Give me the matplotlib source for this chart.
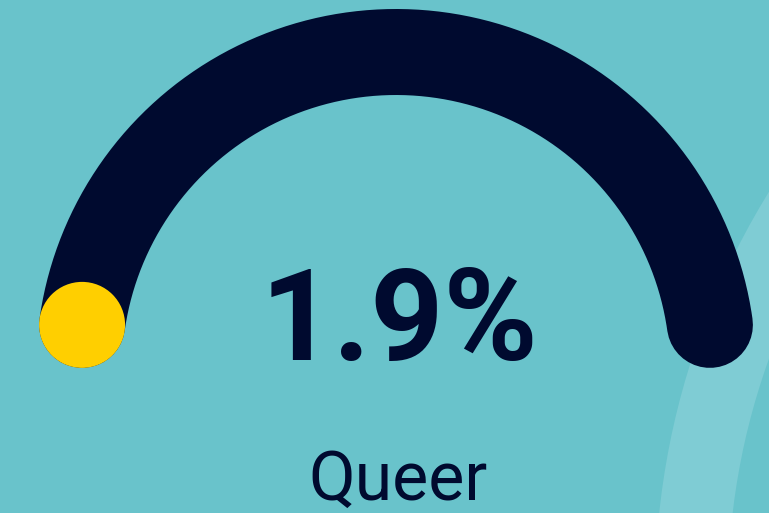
import numpy as np
import matplotlib
matplotlib.use("Agg")
from matplotlib import pyplot as plt
from matplotlib.patches import Circle, Wedge

# data
value = 1.9
label = "Queer"
value_text = "1.9%"

bg = "#69c3cb"
navy = "#000a2f"
yellow = "#ffcf00"
light = "#7fccd4"

fig = plt.figure(figsize=(7.69, 5.13), dpi=100)
fig.patch.set_facecolor(bg)
ax = fig.add_axes([0, 0, 1, 1])
ax.set_facecolor(bg)
ax.set_xlim(0, 769)
ax.set_ylim(513, 0)
ax.set_aspect("equal")
ax.axis("off")

# decorative light ring on the right
ax.add_patch(Wedge((1418, 593), 763, 0, 360, width=73, color=light, lw=0, zorder=1))

# gauge arc (pixel units, 1 data unit = 1 px)
cx, cy, r = 396, 369, 317
t0, t1 = 172, 8
thick = 86
t = np.radians(np.linspace(t0, t1, 300))
ax.plot(cx + r*np.cos(t), cy - r*np.sin(t), color=navy,
        lw=thick*72/100, solid_capstyle="round", zorder=2)

# marker at start of gauge
a = np.radians(t0)
ax.add_patch(Circle((cx + r*np.cos(a), cy - r*np.sin(a)), thick/2,
                    color=yellow, lw=0, zorder=3))

ax.text(399, 360, value_text, ha="center", va="baseline", fontsize=92,
        fontweight="bold", family="Roboto", color=navy, zorder=4)
ax.text(398, 500, label, ha="center", va="baseline", fontsize=49,
        family="Roboto", color=navy, zorder=4)

fig.savefig("out.png", dpi=100, facecolor=bg)
